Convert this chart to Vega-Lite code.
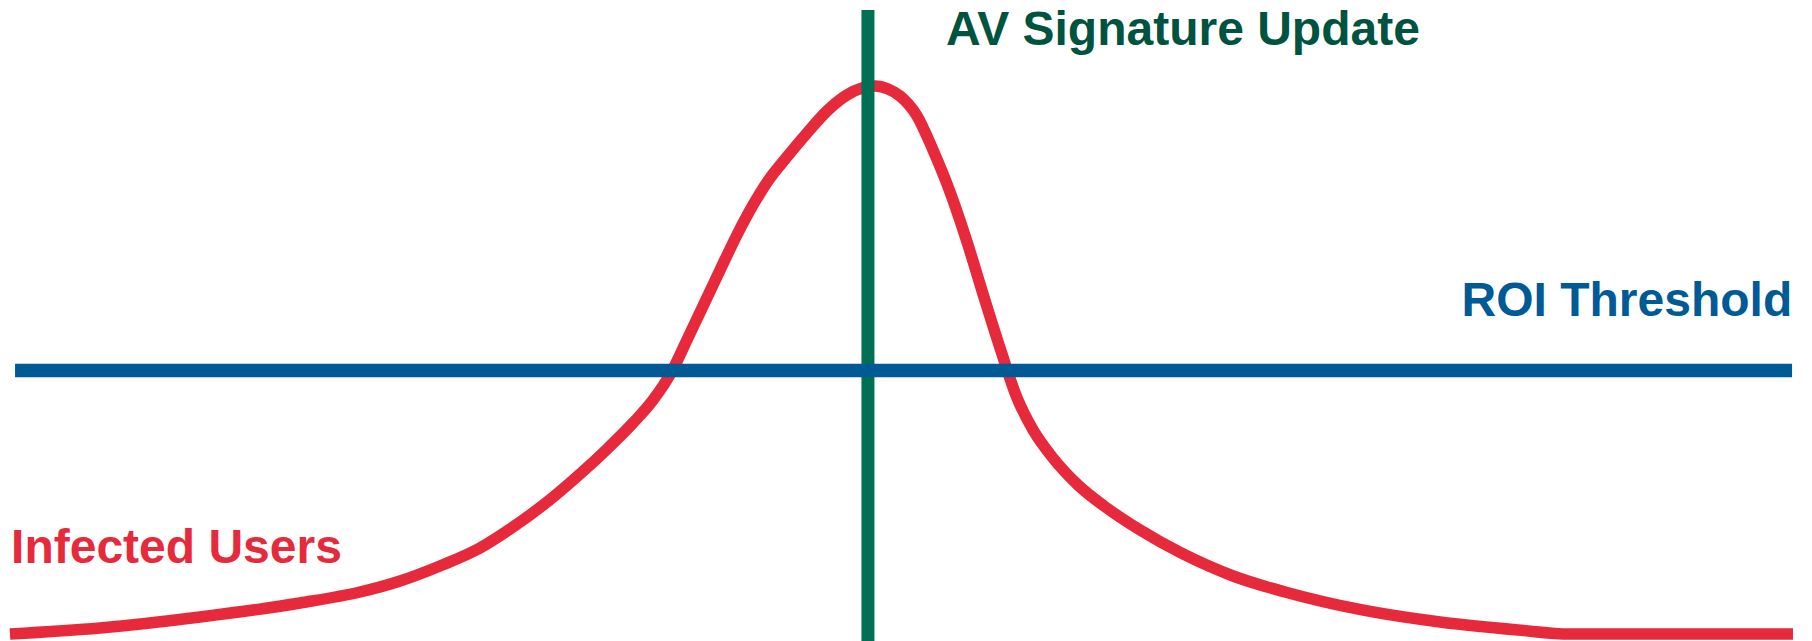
{
  "$schema": "https://vega.github.io/schema/vega-lite/v6.json",
  "width": 1812,
  "height": 641,
  "autosize": {"type": "none"},
  "padding": 0,
  "background": "white",
  "config": {"view": {"stroke": null}},
  "datasets": {
    "curve": [
      {"t": 0.55, "infected": 1.09},
      {"t": 5.52, "infected": 2.03},
      {"t": 11.04, "infected": 3.74},
      {"t": 16.56, "infected": 5.93},
      {"t": 19.87, "infected": 7.64},
      {"t": 22.08, "infected": 9.36},
      {"t": 24.28, "infected": 11.7},
      {"t": 26.49, "infected": 14.51},
      {"t": 28.31, "infected": 17.78},
      {"t": 30.19, "infected": 21.68},
      {"t": 32.01, "infected": 26.05},
      {"t": 33.5, "infected": 29.95},
      {"t": 34.93, "infected": 34.01},
      {"t": 36.04, "infected": 37.6},
      {"t": 37.09, "infected": 42.12},
      {"t": 37.91, "infected": 46.96},
      {"t": 38.8, "infected": 52.26},
      {"t": 39.74, "infected": 57.88},
      {"t": 40.67, "infected": 63.34},
      {"t": 41.56, "infected": 68.02},
      {"t": 42.38, "infected": 71.76},
      {"t": 43.43, "infected": 75.51},
      {"t": 44.54, "infected": 79.25},
      {"t": 45.64, "infected": 82.68},
      {"t": 46.74, "infected": 85.18},
      {"t": 47.57, "infected": 86.27},
      {"t": 48.29, "infected": 86.58},
      {"t": 49.01, "infected": 86.12},
      {"t": 49.67, "infected": 85.02},
      {"t": 50.61, "infected": 81.9},
      {"t": 51.49, "infected": 76.6},
      {"t": 52.43, "infected": 70.05},
      {"t": 53.37, "infected": 62.25},
      {"t": 54.25, "infected": 54.13},
      {"t": 55.19, "infected": 45.71},
      {"t": 56.13, "infected": 37.91},
      {"t": 57.01, "infected": 32.92},
      {"t": 58.11, "infected": 28.55},
      {"t": 59.49, "infected": 24.34},
      {"t": 60.93, "infected": 21.06},
      {"t": 62.91, "infected": 17.32},
      {"t": 65.18, "infected": 13.73},
      {"t": 68.05, "infected": 10.14},
      {"t": 70.92, "infected": 7.64},
      {"t": 75.17, "infected": 4.84},
      {"t": 79.47, "infected": 2.96},
      {"t": 83.77, "infected": 1.72},
      {"t": 86.64, "infected": 1.09},
      {"t": 92.33, "infected": 1.09},
      {"t": 98.95, "infected": 1.09}
    ],
    "threshold": [{"level": 42.2, "start": 0.83, "end": 98.9}],
    "update": [{"t": 47.9, "bottom": 0, "top": 98.44}],
    "labelUpdate": [{"label": "AV Signature Update", "t": 52.21, "v": 92.98}],
    "labelROI": [{"label": "ROI Threshold", "t": 80.66, "v": 50.7}],
    "labelInfected": [{"label": "Infected Users", "t": 0.61, "v": 12.17}]
  },
  "layer": [
    {
      "data": {"name": "curve"},
      "mark": {"type": "line", "color": "#E62A3C", "strokeWidth": 11.5, "interpolate": "monotone"},
      "encoding": {
        "x": {"field": "t", "type": "quantitative", "scale": {"domain": [0, 100], "nice": false, "zero": false}, "axis": null},
        "y": {"field": "infected", "type": "quantitative", "scale": {"domain": [0, 100], "nice": false, "zero": false}, "axis": null}
      }
    },
    {
      "data": {"name": "update"},
      "mark": {"type": "rule", "color": "#007055", "strokeWidth": 13},
      "encoding": {
        "x": {"field": "t", "type": "quantitative"},
        "y": {"field": "bottom", "type": "quantitative"},
        "y2": {"field": "top"}
      }
    },
    {
      "data": {"name": "threshold"},
      "mark": {"type": "rule", "color": "#005A96", "strokeWidth": 13.3},
      "encoding": {
        "y": {"field": "level", "type": "quantitative"},
        "x": {"field": "start", "type": "quantitative"},
        "x2": {"field": "end"}
      }
    },
    {
      "data": {"name": "labelUpdate"},
      "mark": {"type": "text", "color": "#00543F", "font": "Liberation Sans", "fontWeight": "bold", "fontSize": 48, "align": "left", "baseline": "alphabetic"},
      "encoding": {
        "x": {"field": "t", "type": "quantitative"},
        "y": {"field": "v", "type": "quantitative"},
        "text": {"field": "label"}
      }
    },
    {
      "data": {"name": "labelROI"},
      "mark": {"type": "text", "color": "#005A96", "font": "Liberation Sans", "fontWeight": "bold", "fontSize": 48, "align": "left", "baseline": "alphabetic"},
      "encoding": {
        "x": {"field": "t", "type": "quantitative"},
        "y": {"field": "v", "type": "quantitative"},
        "text": {"field": "label"}
      }
    },
    {
      "data": {"name": "labelInfected"},
      "mark": {"type": "text", "color": "#E62A3C", "font": "Liberation Sans", "fontWeight": "bold", "fontSize": 48, "align": "left", "baseline": "alphabetic"},
      "encoding": {
        "x": {"field": "t", "type": "quantitative"},
        "y": {"field": "v", "type": "quantitative"},
        "text": {"field": "label"}
      }
    }
  ]
}
